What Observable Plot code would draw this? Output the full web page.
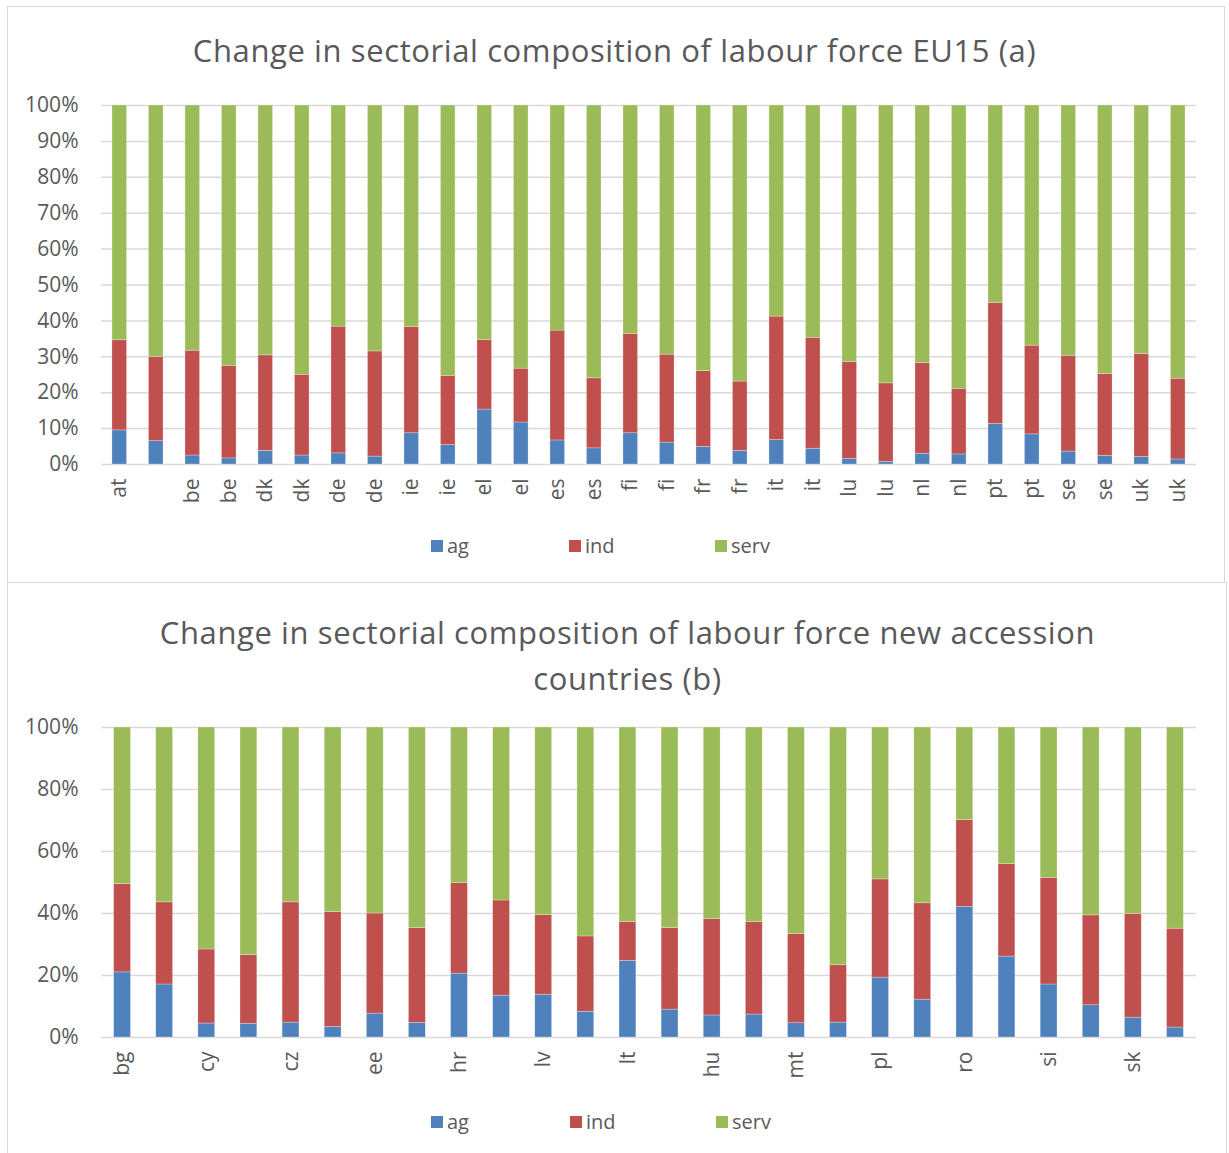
<!DOCTYPE html>
<html>
<head>
<meta charset="utf-8">
<script src="https://cdn.jsdelivr.net/npm/d3@7"></script>
<script src="https://cdn.jsdelivr.net/npm/@observablehq/plot@0.6"></script>
<style>
  html, body { margin: 0; padding: 0; overflow: hidden; background: #fff; width: 1229px; height: 1153px; }
  body { position: relative; font-family: "Open Sans", sans-serif; color: #595959; }
  .panel { position: absolute; border: 1px solid #d9d9d9; box-sizing: border-box; }
  .title { position: absolute; left: 0; width: 1229px; text-align: center; font-size: 31px; letter-spacing: 0.6px; line-height: 46px; }
  .legend { position: absolute; display: flex; align-items: center; font-size: 20px; line-height: 20px; height: 20px; }
  .legend .item { display: flex; align-items: center; }
  .legend .sw { width: 12px; height: 12px; margin-right: 4px; }
  .chart { position: absolute; left: 0; }
  .chart svg { max-width: none; }
</style>
</head>
<body>
<div class="panel" style="left:7px; top:6px; width:1218px; height:577px;"></div>
<div class="panel" style="left:7px; top:582px; width:1220px; height:590px;"></div>

<div class="title" style="top:27px;">Change in sectorial composition of labour force EU15 (a)</div>
<div class="chart" id="chartA" style="top:80px;"></div>
<div class="legend" id="legendA" style="left:431px; top:536px;"></div>

<div class="title" style="top:609px; left:13px;">Change in sectorial composition of labour force new accession<br>countries (b)</div>
<div class="chart" id="chartB" style="top:700px;"></div>
<div class="legend" id="legendB" style="left:431px; top:1112px;"></div>

<script>
// Sectors and their colours
const sectors = ["ag", "ind", "serv"];
const sectorColors = ["#4f81bd", "#c0504d", "#9bbb59"];

// (a) EU15 — two bars per country, shares of employment in %
const labelsA = ["at", "", "be", "be", "dk", "dk", "de", "de", "ie", "ie", "el", "el", "es", "es", "fi", "fi",
                 "fr", "fr", "it", "it", "lu", "lu", "nl", "nl", "pt", "pt", "se", "se", "uk", "uk"];
const agA   = [9.5, 6.5, 2.5, 1.7, 3.8, 2.5, 3.1, 2.2, 8.7, 5.4, 15.3, 11.7, 6.7, 4.5, 8.7, 6.1,
               4.9, 3.8, 6.8, 4.4, 1.6, 0.7, 3.0, 2.8, 11.3, 8.4, 3.6, 2.4, 2.1, 1.4];
const indA  = [25.1, 23.5, 29.2, 25.8, 26.6, 22.5, 35.3, 29.3, 29.6, 19.3, 19.4, 15.0, 30.6, 19.5, 27.7, 24.5,
               21.1, 19.3, 34.4, 30.9, 26.9, 21.9, 25.2, 18.3, 33.7, 24.7, 26.7, 22.8, 28.7, 22.5];
const servA = [65.4, 70.0, 68.3, 72.5, 69.6, 75.0, 61.6, 68.5, 61.7, 75.3, 65.3, 73.3, 62.7, 76.0, 63.6, 69.4,
               74.0, 76.9, 58.8, 64.7, 71.5, 77.4, 71.8, 78.9, 55.0, 66.9, 69.7, 74.8, 69.2, 76.1];
const yTicksA = [0, 10, 20, 30, 40, 50, 60, 70, 80, 90, 100];

// (b) New accession countries — two bars per country, label on the first of each pair
const labelsB = ["bg", "cy", "cz", "ee", "hr", "lv", "lt", "hu", "mt", "pl", "ro", "si", "sk"];
const agB   = [21.0, 17.1, 4.5, 4.4, 4.8, 3.4, 7.7, 4.7, 20.6, 13.5, 13.8, 8.3, 24.7, 9.0,
               7.1, 7.4, 4.6, 4.8, 19.3, 12.2, 42.1, 26.1, 17.1, 10.4, 6.4, 3.2];
const indB  = [28.5, 26.5, 23.9, 22.2, 38.8, 37.1, 32.3, 30.6, 29.2, 30.7, 25.7, 24.3, 12.5, 26.3,
               31.1, 29.8, 28.8, 18.5, 31.7, 31.1, 28.0, 29.8, 34.4, 29.0, 33.4, 31.9];
const servB = [50.5, 56.4, 71.6, 73.4, 56.4, 59.5, 60.0, 64.7, 50.2, 55.8, 60.5, 67.4, 62.8, 64.7,
               61.8, 62.8, 66.6, 76.7, 49.0, 56.7, 29.9, 44.1, 48.5, 60.6, 60.2, 64.9];
const yTicksB = [0, 20, 40, 60, 80, 100];

function stackedChart({ag, ind, serv, tickText, yTicks, height, marginTop}) {
  const rows = [];
  ag.forEach((_, i) => {
    rows.push({bar: i, sector: "ag", value: ag[i]});
    rows.push({bar: i, sector: "ind", value: ind[i]});
    rows.push({bar: i, sector: "serv", value: serv[i]});
  });
  return Plot.plot({
    width: 1229,
    height,
    marginLeft: 101,
    marginRight: 33,
    marginTop,
    marginBottom: 60,
    style: {background: "transparent", fontFamily: "'Open Sans', sans-serif", fontSize: "21px", color: "#595959", overflow: "visible"},
    x: {type: "band", domain: d3.range(ag.length), paddingInner: 0.6, paddingOuter: 0.3, round: false,
        tickSize: 0, tickPadding: 14, tickRotate: -90, tickFormat: tickText, label: null},
    y: {domain: [0, 100], ticks: yTicks, tickSize: 0, tickPadding: 23, tickFormat: d => d + "%", label: null},
    color: {domain: sectors, range: sectorColors},
    marks: [
      Plot.ruleY(yTicks, {stroke: "#d9d9d9", strokeWidth: 1.5}),
      Plot.barY(rows, {x: "bar", y: "value", fill: "sector", stroke: "#ffffff", strokeOpacity: 0.45, strokeWidth: 0.6})
    ]
  });
}

function legend(el, widths) {
  sectors.forEach((s, i) => {
    const item = document.createElement("div");
    item.className = "item";
    if (widths[i]) item.style.width = widths[i] + "px";
    item.innerHTML = `<span class="sw" style="background:${sectorColors[i]}"></span><span>${s}</span>`;
    el.appendChild(item);
  });
}

document.getElementById("chartA").appendChild(stackedChart({
  ag: agA, ind: indA, serv: servA,
  tickText: i => labelsA[i],
  yTicks: yTicksA, height: 444, marginTop: 25
}));
document.getElementById("chartB").appendChild(stackedChart({
  ag: agB, ind: indB, serv: servB,
  tickText: i => (i % 2 === 0 ? labelsB[i / 2] : ""),
  yTicks: yTicksB, height: 397, marginTop: 27
}));

legend(document.getElementById("legendA"), [138, 146, 0]);
legend(document.getElementById("legendB"), [139, 146, 0]);
</script>
</body>
</html>
